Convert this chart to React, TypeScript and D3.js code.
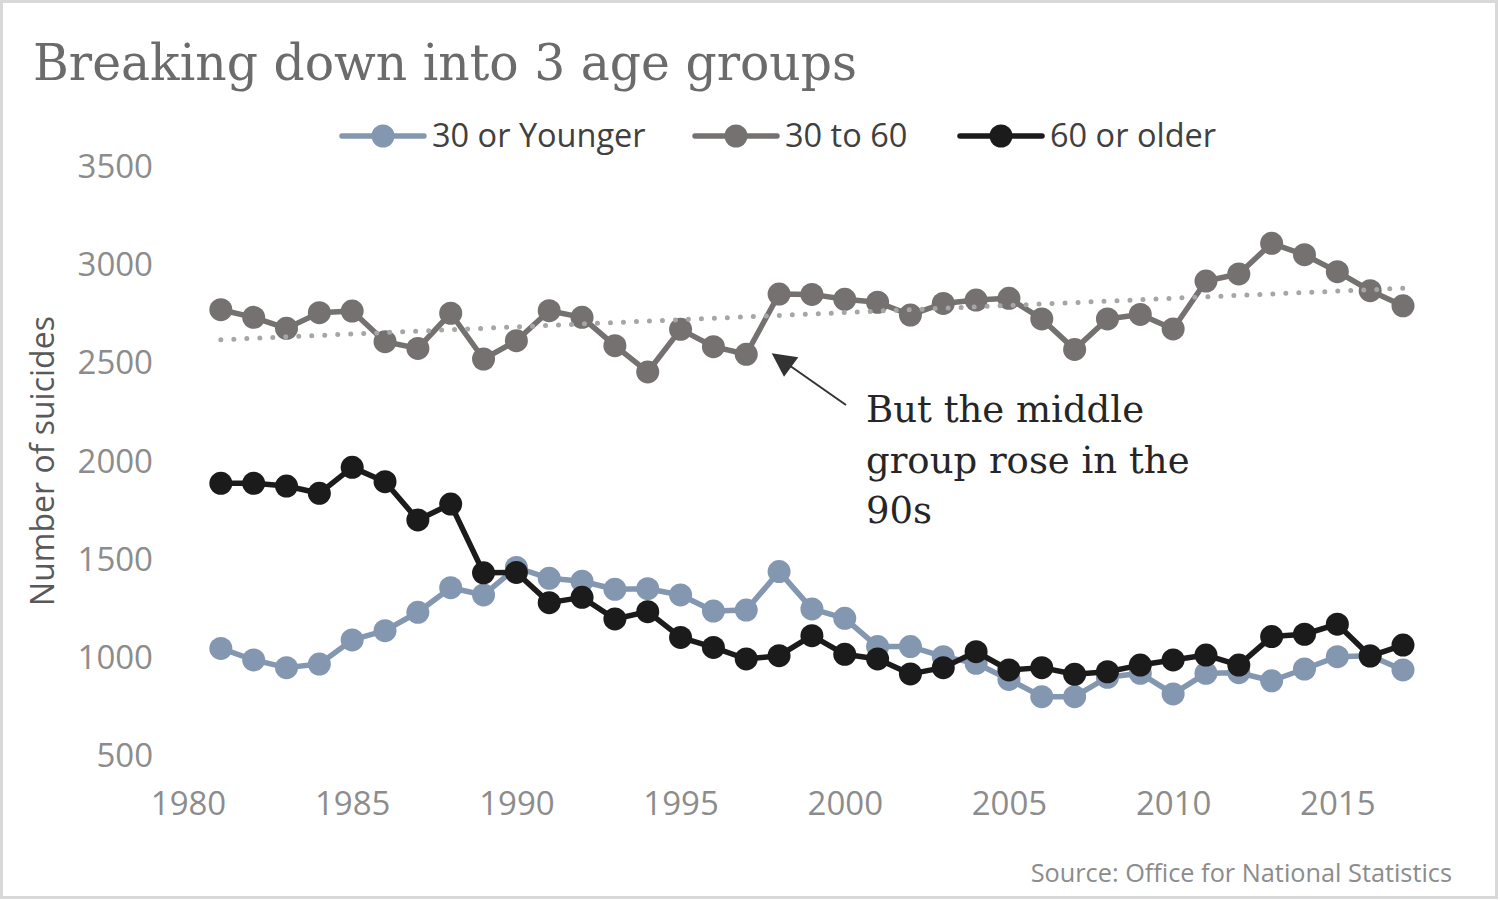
import { useEffect, useRef } from "react";
import * as d3 from "d3";

const years = [
  1981, 1982, 1983, 1984, 1985, 1986, 1987, 1988, 1989, 1990, 1991, 1992, 1993,
  1994, 1995, 1996, 1997, 1998, 1999, 2000, 2001, 2002, 2003, 2004, 2005, 2006,
  2007, 2008, 2009, 2010, 2011, 2012, 2013, 2014, 2015, 2016, 2017,
];

const younger = [
  1043, 984, 945, 963, 1086, 1133, 1227, 1352, 1315, 1455, 1400, 1385, 1344,
  1347, 1315, 1233, 1238, 1434, 1244, 1196, 1052, 1052, 1001, 967, 885, 797,
  797, 896, 916, 811, 916, 919, 878, 938, 1001, 1006, 933,
];

const middle = [
  2768, 2729, 2673, 2753, 2761, 2605, 2571, 2750, 2517, 2610, 2763, 2729, 2585,
  2451, 2668, 2580, 2541, 2848, 2846, 2821, 2806, 2741, 2800, 2817, 2826, 2721,
  2566, 2721, 2744, 2670, 2914, 2950, 3106, 3048, 2962, 2865, 2788,
];

const older = [
  1884, 1884, 1870, 1833, 1965, 1892, 1697, 1778, 1428, 1430, 1276, 1303, 1193,
  1230, 1099, 1048, 989, 1006, 1108, 1013, 989, 913, 945, 1026, 933, 945, 911,
  924, 958, 984, 1009, 958, 1103, 1115, 1166, 1004, 1060,
];

const seriesNames = ["30 or Younger", "30 to 60", "60 or older"];
const seriesColors = ["#8497b0", "#767171", "#1b1b1b"];
const yTicks = [500, 1000, 1500, 2000, 2500, 3000, 3500];
const xTicks = [1980, 1985, 1990, 1995, 2000, 2005, 2010, 2015];
const noteLines = ["But the middle", "group rose in the", "90s"];

const width = 1500;
const height = 900;
const sans = "'Open Sans', 'Noto Sans', sans-serif";
const serif = "'DejaVu Serif', 'Liberation Serif', serif";

export default function App() {
  const ref = useRef<SVGSVGElement | null>(null);

  useEffect(() => {
    document.body.style.margin = "0";
    if (!ref.current) return;
    const svg = d3.select(ref.current);
    svg.selectAll("*").remove();

    svg
      .append("rect")
      .attr("width", width)
      .attr("height", height)
      .attr("fill", "white");
    svg
      .append("rect")
      .attr("x", 1.5)
      .attr("y", 1.5)
      .attr("width", width - 5)
      .attr("height", height - 4)
      .attr("fill", "none")
      .attr("stroke", "#d9d9d9")
      .attr("stroke-width", 3);

    const x = d3.scaleLinear([1980, 2017], [188, 1403]);
    const y = d3.scaleLinear([500, 3500], [755, 166]);

    // title
    svg
      .append("text")
      .attr("x", 33)
      .attr("y", 80)
      .attr("font-family", serif)
      .attr("font-size", 50)
      .attr("fill", "#6b6b6b")
      .attr("textLength", 824)
      .attr("lengthAdjust", "spacingAndGlyphs")
      .text("Breaking down into 3 age groups");

    // y axis
    const yAxis = d3
      .axisLeft(y)
      .tickValues(yTicks)
      .tickFormat(d3.format("d"))
      .tickSize(0)
      .tickPadding(0);
    const yG = svg
      .append("g")
      .attr("transform", "translate(153,0)")
      .call(yAxis);
    yG.select(".domain").remove();
    yG.selectAll("text")
      .attr("font-family", sans)
      .attr("font-size", 33)
      .attr("fill", "#8c8c8c")
      .attr("dy", "0.35em");

    // x axis
    const xAxis = d3
      .axisBottom(x)
      .tickValues(xTicks)
      .tickFormat(d3.format("d"))
      .tickSize(0)
      .tickPadding(0);
    const xG = svg
      .append("g")
      .attr("transform", "translate(0,803)")
      .call(xAxis);
    xG.select(".domain").remove();
    xG.selectAll("text")
      .attr("font-family", sans)
      .attr("font-size", 33)
      .attr("fill", "#8c8c8c")
      .attr("dy", "0.35em");

    // y axis title
    svg
      .append("text")
      .attr("transform", "translate(54,461) rotate(-90)")
      .attr("text-anchor", "middle")
      .attr("font-family", sans)
      .attr("font-size", 32)
      .attr("fill", "#595959")
      .text("Number of suicides");

    // series
    const allSeries = [younger, middle, older];
    const line = d3
      .line<number>()
      .x((_, i) => x(years[i]))
      .y((d) => y(d));

    allSeries.forEach((vals, s) => {
      const g = svg.append("g");
      g.append("path")
        .datum(vals)
        .attr("d", line)
        .attr("fill", "none")
        .attr("stroke", seriesColors[s])
        .attr("stroke-width", 5.5)
        .attr("stroke-linejoin", "round");
      g.selectAll("circle")
        .data(vals)
        .enter()
        .append("circle")
        .attr("cx", (_, i) => x(years[i]))
        .attr("cy", (d) => y(d))
        .attr("r", 11.5)
        .attr("fill", seriesColors[s]);
    });

    // linear trend of the middle group
    const mx = d3.mean(years)!;
    const my = d3.mean(middle)!;
    const slope =
      d3.sum(years, (yr, i) => (yr - mx) * (middle[i] - my)) /
      d3.sum(years, (yr) => (yr - mx) ** 2);
    const x0 = years[0];
    const x1 = years[years.length - 1];
    svg
      .append("line")
      .attr("x1", x(x0))
      .attr("y1", y(my + slope * (x0 - mx)))
      .attr("x2", x(x1))
      .attr("y2", y(my + slope * (x1 - mx)))
      .attr("stroke", "#a6a6a6")
      .attr("stroke-width", 5)
      .attr("stroke-linecap", "round")
      .attr("stroke-dasharray", "0 13");

    // legend
    const legendX = [342, 695, 960];
    const legend = svg
      .selectAll(".legend")
      .data(seriesNames)
      .enter()
      .append("g")
      .attr("transform", (_, i) => `translate(${legendX[i]},136)`);
    legend
      .append("line")
      .attr("x1", 0)
      .attr("x2", 82)
      .attr("stroke", (_, i) => seriesColors[i])
      .attr("stroke-width", 5.5)
      .attr("stroke-linecap", "round");
    legend
      .append("circle")
      .attr("cx", 41)
      .attr("r", 11.5)
      .attr("fill", (_, i) => seriesColors[i]);
    legend
      .append("text")
      .attr("x", 90)
      .attr("dy", "0.35em")
      .attr("font-family", sans)
      .attr("font-size", 32.5)
      .attr("fill", "#404040")
      .text((d) => d);

    // annotation
    svg
      .append("line")
      .attr("x1", 846)
      .attr("y1", 405)
      .attr("x2", 786)
      .attr("y2", 363)
      .attr("stroke", "#333")
      .attr("stroke-width", 2);
    svg
      .append("path")
      .attr("d", "M771.7,353.3 L798.3,357.3 L784,376.7 Z")
      .attr("fill", "#333");
    svg
      .append("g")
      .selectAll("text")
      .data(noteLines)
      .enter()
      .append("text")
      .attr("x", 866)
      .attr("y", (_, i) => 422 + i * 50.5)
      .attr("font-family", serif)
      .attr("font-size", 37)
      .attr("fill", "#262626")
      .text((d) => d);

    // source
    svg
      .append("text")
      .attr("x", 1452)
      .attr("y", 882)
      .attr("text-anchor", "end")
      .attr("font-family", sans)
      .attr("font-size", 25.3)
      .attr("fill", "#8c8c8c")
      .text("Source: Office for National Statistics");
  }, []);

  return (
    <svg
      ref={ref}
      width={width}
      height={height}
      style={{ display: "block" }}
    />
  );
}
